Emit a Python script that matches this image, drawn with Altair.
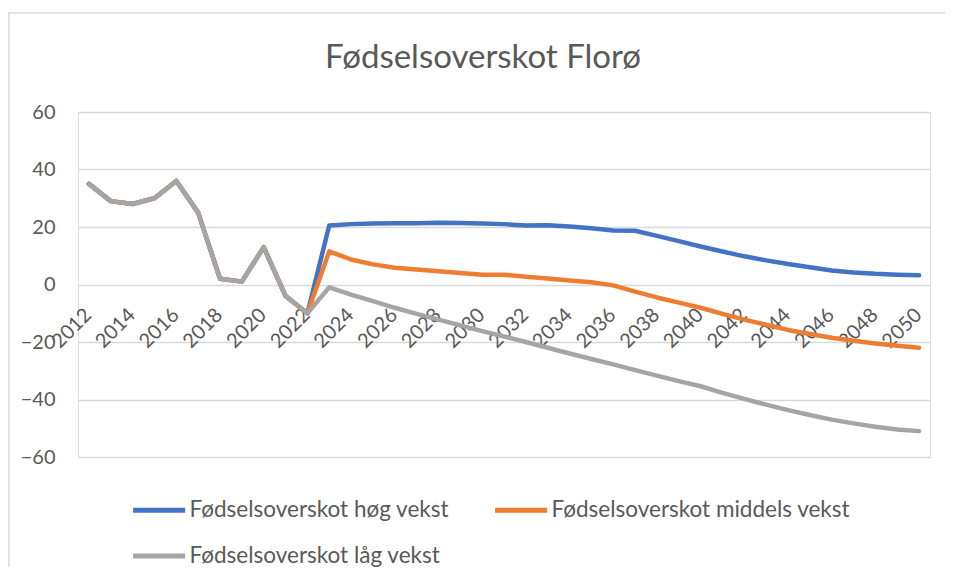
import altair as alt
import pandas as pd

years = list(range(2012, 2051))
history = [35, 29, 28, 30, 36, 25, 2, 1, 13, -4, -10]
high_proj = [20.5, 21.0, 21.2, 21.3, 21.3, 21.5, 21.4, 21.2, 21.0, 20.5, 20.6, 20.2, 19.6, 18.8,
             18.7, 16.9, 15.1, 13.2, 11.5, 9.8, 8.4, 7.1, 6.0, 4.9, 4.2, 3.7, 3.4, 3.2]
mid_proj = [11.5, 8.7, 7.0, 5.8, 5.2, 4.6, 4.0, 3.4, 3.4, 2.7, 2.1, 1.4, 0.8, -0.3,
            -2.5, -4.5, -6.3, -8.1, -10.2, -12.2, -14.0, -15.8, -17.2, -18.5, -19.6, -20.5, -21.3, -22.0]
low_proj = [-1.0, -3.5, -5.8, -8.1, -10.2, -12.2, -14.2, -16.2, -18.1, -20.0, -22.0, -24.0, -25.9, -27.8,
            -29.8, -31.7, -33.6, -35.4, -37.7, -39.8, -41.8, -43.7, -45.4, -47.0, -48.3, -49.5, -50.4, -51.0]
series_names = ["Fødselsoverskot høg vekst", "Fødselsoverskot middels vekst", "Fødselsoverskot låg vekst"]
colors = ["#4472C4", "#ED7D31", "#A5A5A5"]
y_ticks = [-60, -40, -20, 0, 20, 40, 60]
x_ticks = list(range(2012, 2051, 2))

rows = []
for name, proj in zip(series_names, [high_proj, mid_proj, low_proj]):
    for yr, v in zip(years, history + proj):
        rows.append({"year": yr, "value": v, "series": name})
df = pd.DataFrame(rows)

W, H = 852, 345
FONT = "Lato"
TXT = "#595959"

lines = alt.Chart(df).mark_line(strokeWidth=4.5, strokeCap="round", strokeJoin="round").encode(
    x=alt.X("year:Q",
            scale=alt.Scale(domain=[2011.5, 2050.5], nice=False, zero=False),
            axis=alt.Axis(values=x_ticks, format="d", title=None, grid=False, domain=False, ticks=False,
                          labelAngle=-45, labelAlign="right", labelBaseline="top", labelPadding=20,
                          labelOffset=-8, offset=-H / 2, labelFontSize=20, labelColor=TXT, labelFont=FONT,
                          labelOverlap=False, labelFlush=False)),
    y=alt.Y("value:Q",
            scale=alt.Scale(domain=[-60, 60], nice=False),
            axis=alt.Axis(values=y_ticks, title=None, domain=False, ticks=False, labelPadding=23,
                          gridColor="#d9d9d9", gridWidth=1.3, labelFontSize=20, labelColor=TXT,
                          labelFont=FONT)),
    color=alt.Color("series:N",
                    scale=alt.Scale(domain=series_names, range=colors),
                    legend=alt.Legend(orient="none", legendX=52.5, legendY=385, columns=2, direction="horizontal",
                                      title=None, symbolType="M-1,0H4", symbolSize=433, symbolStrokeWidth=5,
                                      labelOffset=33, labelFontSize=22.5, labelColor=TXT, labelFont=FONT,
                                      labelLimit=500, columnPadding=35, rowPadding=21, padding=0)),
)

# light chart-area frame (top and left edges, as in the reference)
frame_df = pd.DataFrame({"a": [0]})
top_border = alt.Chart(frame_df).mark_rule(color="#d9d9d9", strokeWidth=1.5).encode(
    x=alt.value(-70), x2=alt.value(W + 15), y=alt.value(-99))
left_border = alt.Chart(frame_df).mark_rule(color="#d9d9d9", strokeWidth=1.5).encode(
    x=alt.value(-69), y=alt.value(-99), y2=alt.value(H + 110))

chart = alt.layer(top_border, left_border, lines).properties(
    width=W, height=H,
    title=alt.TitleParams(text="Fødselsoverskot Florø", fontSize=33, font=FONT, fontWeight="normal",
                          color=TXT, anchor="middle", offset=-63, dx=-21),
    autosize=alt.AutoSizeParams(type="none"),
    padding={"left": 70, "top": 104, "right": 15, "bottom": 110},
).configure_view(stroke=None).configure(font=FONT)

chart.save("out.html", embed_options={"renderer": "svg", "actions": False})
